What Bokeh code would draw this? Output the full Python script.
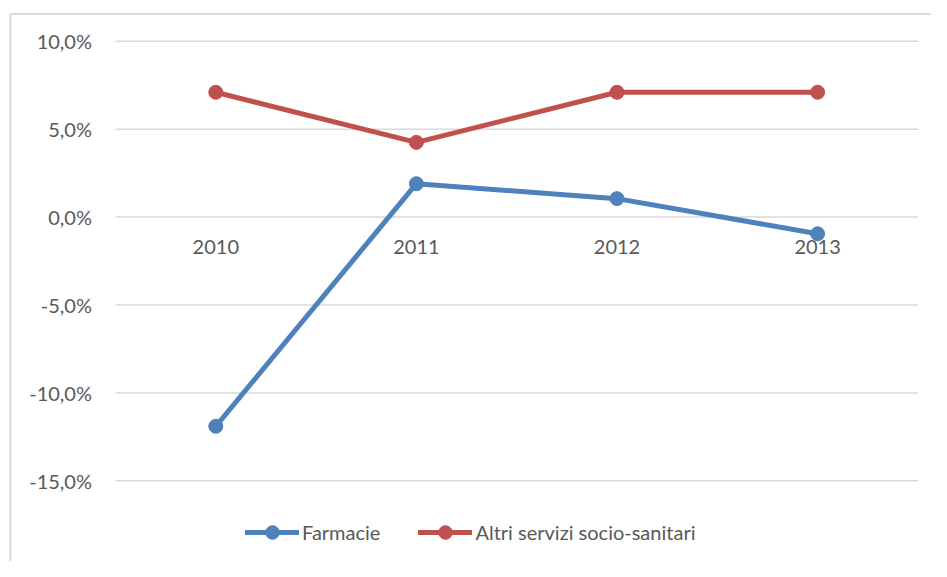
from bokeh.plotting import figure
from bokeh.models import Range1d, Legend, LegendItem
from bokeh.core.properties import value
from bokeh.embed import file_html
from bokeh.resources import INLINE

# ---- data ----
years = ["2010", "2011", "2012", "2013"]
farmacie = [-11.9, 1.9, 1.05, -0.95]
altri = [7.1, 4.25, 7.1, 7.1]
y_ticks = [-15, -10, -5, 0, 5, 10]
y_tick_labels = ["-15,0%", "-10,0%", "-5,0%", "0,0%", "5,0%", "10,0%"]

# ---- layout constants ----
W, H = 931, 561
px_per_cat = 200.6
x0_px = 215.3          # pixel of first category
px_per_unit = 17.58    # pixels per 1 %
y0_px = 216.6          # pixel of 0 %

xs = list(range(len(years)))
x_start = -x0_px / px_per_cat
x_end = (W - x0_px) / px_per_cat
y_end = y0_px / px_per_unit
y_start = (y0_px - H) / px_per_unit

BLUE = "#4f81bd"
RED = "#c0504d"
GRID = "#d9d9d9"
TXT = "#595959"
FONT = "Lato"

p = figure(width=W, height=H, output_backend="svg", toolbar_location=None,
           x_range=Range1d(x_start, x_end), y_range=Range1d(y_start, y_end),
           x_axis_location=None, y_axis_location=None, min_border=0)
p.grid.visible = False
p.outline_line_color = None
p.background_fill_color = "white"
p.border_fill_color = "white"

# outer chart-area border (left + top)
bx = x_start + 9.8 / px_per_cat
by = y_end - 13.6 / px_per_unit
p.segment(x0=[bx, bx], y0=[by, by], x1=[bx, x_end], y1=[y_start, by],
          line_color=GRID, line_width=2)

# horizontal gridlines
n = len(years)
p.segment(x0=[-0.5] * len(y_ticks), x1=[n - 0.5] * len(y_ticks),
          y0=y_ticks, y1=y_ticks, line_color=GRID, line_width=1.5)

# y tick labels
p.text(x=[-0.5] * len(y_ticks), y=y_ticks, text=y_tick_labels,
       x_offset=-23.5, text_align="right", text_baseline="middle",
       text_font=value(FONT), text_font_size="20px", text_color=TXT)

# x category labels (axis crosses at 0)
p.text(x=xs, y=[0] * n, text=years, y_offset=30,
       text_align="center", text_baseline="middle",
       text_font=value(FONT), text_font_size="20px", text_color=TXT)

l1 = p.line(xs, farmacie, line_color=BLUE, line_width=5, line_cap="round", line_join="round")
c1 = p.scatter(xs, farmacie, size=14, fill_color=BLUE, line_color=BLUE)
l2 = p.line(xs, altri, line_color=RED, line_width=5, line_cap="round", line_join="round")
c2 = p.scatter(xs, altri, size=14, fill_color=RED, line_color=RED)

legend = Legend(items=[LegendItem(label="Farmacie", renderers=[l1, c1]),
                       LegendItem(label="Altri servizi socio-sanitari", renderers=[l2, c2])],
                orientation="horizontal", location=(245, 12),
                glyph_width=54, glyph_height=34, label_standoff=3, spacing=38,
                padding=0, margin=0, border_line_color=None, background_fill_alpha=0,
                label_text_font=FONT, label_text_font_size="20px", label_text_color=TXT,
                label_height=20)
p.add_layout(legend)

open("out.html", "w").write(file_html(p, INLINE))
